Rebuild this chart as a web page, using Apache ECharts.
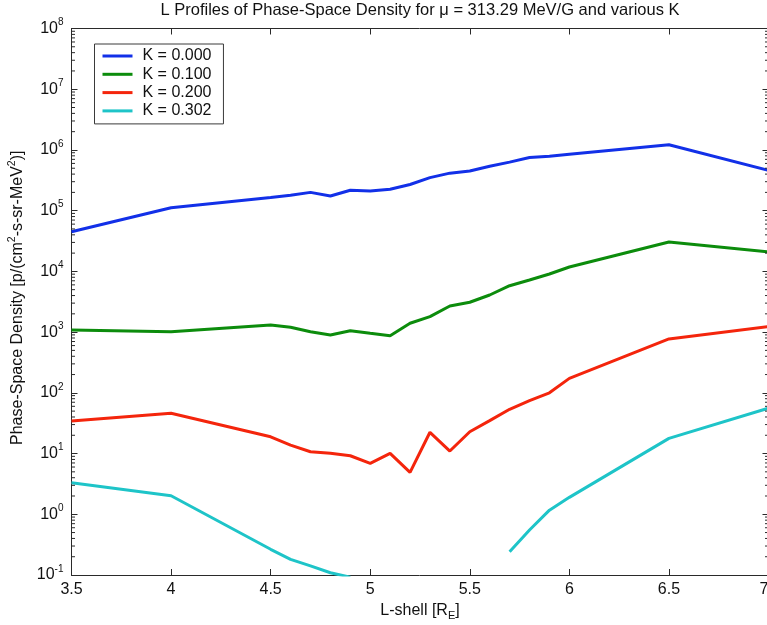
<!DOCTYPE html>
<html>
<head>
<meta charset="utf-8">
<title>L Profiles of Phase-Space Density</title>
<script src="https://cdn.jsdelivr.net/npm/echarts@6/dist/echarts.min.js"></script>
<style>
  html, body { margin: 0; padding: 0; background: #ffffff; }
  #chart { width: 767px; height: 625px; }
</style>
</head>
<body>
<div id="chart"></div>
<script>
// L-shell positions [R_E]
const lShell = [3.5, 4.0, 4.5, 4.6, 4.7, 4.8, 4.9, 5.0, 5.1, 5.2, 5.3, 5.4, 5.5, 5.6, 5.7, 5.8, 5.9, 6.0, 6.5, 7.0];

// Phase-space density for each K (null = no data)
const psdK000 = [4.5e4, 1.12e5, 1.65e5, 1.8e5, 2.0e5, 1.74e5, 2.17e5, 2.1e5, 2.25e5, 2.7e5, 3.5e5, 4.15e5, 4.5e5, 5.4e5, 6.3e5, 7.5e5, 7.9e5, 8.5e5, 1.22e6, 4.6e5];
const psdK100 = [1085, 1017, 1310, 1200, 1017, 896, 1054, 955, 873, 1397, 1795, 2690, 3100, 4085, 5810, 7210, 9060, 11800, 30500, 20900];
const psdK200 = [34.4, 46, 18.9, 13.8, 10.7, 10.1, 9.2, 6.9, 10.1, 4.9, 22.4, 11.0, 22.9, 34.8, 53.6, 74.2, 100, 173, 771, 1230];
const psdK302 = [3.3, 2.02, 0.265, 0.181, 0.141, 0.109, 0.092, null, null, null, null, null, null, null, 0.241, 0.55, 1.17, 1.9, 17.8, 56];

const seriesNames = ['K = 0.000', 'K = 0.100', 'K = 0.200', 'K = 0.302'];
const seriesColors = ['#1230e8', '#0c8c0c', '#f4250c', '#1ec4c8'];

// Axis ticks
const xTicks = [3.5, 4, 4.5, 5, 5.5, 6, 6.5, 7];
const yTickExps = [-1, 0, 1, 2, 3, 4, 5, 6, 7, 8];

const FONT = "'Liberation Sans', Arial, Helvetica, sans-serif";
const AXIS_COLOR = '#2a2a2a';

// log-decade minor tick values (2..9 x 10^k)
const minorTicks = [];
for (let e = yTickExps[0]; e < yTickExps[yTickExps.length - 1]; e++) {
  for (let m = 2; m <= 9; m++) minorTicks.push([m * Math.pow(10, e)]);
}

function pairs(ys) {
  return lShell.map((x, i) => [x, ys[i]]);
}

const allSeries = [psdK000, psdK100, psdK200, psdK302].map((ys, i) => ({
  name: seriesNames[i],
  type: 'line',
  data: pairs(ys),
  showSymbol: false,
  symbol: 'none',
  connectNulls: false,
  clip: true,
  lineStyle: { color: seriesColors[i], width: 3 },
  itemStyle: { color: seriesColors[i] },
  emphasis: { disabled: true },
  animation: false,
  z: 3
}));

// minor ticks along the left and right frame edges
allSeries.push({
  name: 'minorTicks',
  type: 'custom',
  data: minorTicks,
  silent: true,
  animation: false,
  clip: false,
  z: 4,
  encode: { y: 0 },
  renderItem: function (params, api) {
    const v = api.value(0);
    const pL = api.coord([xTicks[0], v]);
    const pR = api.coord([xTicks[xTicks.length - 1], v]);
    return {
      type: 'group',
      children: [
        { type: 'line', shape: { x1: pL[0], y1: pL[1], x2: pL[0] + 3.5, y2: pL[1] },
          style: { stroke: AXIS_COLOR, lineWidth: 1 } },
        { type: 'line', shape: { x1: pR[0], y1: pR[1], x2: pR[0] - 3.5, y2: pR[1] },
          style: { stroke: AXIS_COLOR, lineWidth: 1 } }
      ]
    };
  }
});

const yLabelRich = {
  b: { fontFamily: FONT, fontSize: 16, color: '#111', lineHeight: 22 },
  s: { fontFamily: FONT, fontSize: 10, color: '#111', verticalAlign: 'top', lineHeight: 12 }
};

const chart = echarts.init(document.getElementById('chart'), null, { renderer: 'canvas' });

chart.setOption({
  backgroundColor: '#ffffff',
  animation: false,
  title: {
    text: 'L Profiles of Phase-Space Density for \u03bc = 313.29 MeV/G and various K',
    left: 420,
    textAlign: 'center',
    top: 2,
    padding: 0,
    textStyle: { fontFamily: FONT, fontSize: 16.5, fontWeight: 'normal', color: '#111' }
  },
  legend: {
    data: seriesNames,
    orient: 'vertical',
    left: 94.5,
    top: 44,
    padding: [4, 12, 5, 8],
    itemGap: 2.3,
    itemWidth: 30,
    itemHeight: 3,
    icon: 'rect',
    backgroundColor: '#ffffff',
    borderColor: '#3a3a3a',
    borderWidth: 1,
    borderRadius: 0,
    selectedMode: false,
    textStyle: { fontFamily: FONT, fontSize: 16, color: '#111', lineHeight: 16, padding: [0, 0, 0, 5] }
  },
  grid: { left: 71.5, top: 28.5, width: 697, height: 546.5, containLabel: false, outerBoundsMode: 'none' },
  xAxis: [
    {
      type: 'value',
      min: xTicks[0],
      max: xTicks[xTicks.length - 1],
      interval: 0.5,
      position: 'bottom',
      name: '{a|L-shell [R}{sub|E}{a|]}',
      nameLocation: 'middle',
      nameGap: 19,
      nameTextStyle: {
        rich: {
          a: { fontFamily: FONT, fontSize: 16, color: '#111', lineHeight: 22 },
          sub: { fontFamily: FONT, fontSize: 11, color: '#111', verticalAlign: 'bottom', lineHeight: 12 }
        }
      },
      axisLine: { show: true, onZero: false, lineStyle: { color: AXIS_COLOR, width: 1 } },
      axisTick: { show: true, inside: true, length: 6, lineStyle: { color: AXIS_COLOR } },
      axisLabel: {
        margin: 7,
        fontFamily: FONT, fontSize: 16, color: '#111',
        showMinLabel: true, showMaxLabel: true,
        alignMaxLabel: 'right',
        formatter: v => String(+v.toFixed(1))
      },
      splitLine: { show: false }
    },
    {
      type: 'value',
      min: xTicks[0],
      max: xTicks[xTicks.length - 1],
      interval: 0.5,
      position: 'top',
      axisLine: { show: true, onZero: false, lineStyle: { color: AXIS_COLOR, width: 1 } },
      axisTick: { show: true, inside: true, length: 6, lineStyle: { color: AXIS_COLOR } },
      axisLabel: { show: false },
      splitLine: { show: false }
    }
  ],
  yAxis: [
    {
      type: 'log',
      logBase: 10,
      min: Math.pow(10, yTickExps[0]),
      max: Math.pow(10, yTickExps[yTickExps.length - 1]),
      interval: 1,
      position: 'left',
      name: '{a|Phase-Space Density [p/(cm}{s|2}{a|-s-sr-MeV}{s|2}{a|)]}',
      nameLocation: 'middle',
      nameGap: 37,
      nameTextStyle: {
        padding: [0, 0, 0, 8],
        rich: {
          a: { fontFamily: FONT, fontSize: 16, color: '#111', lineHeight: 22 },
          s: { fontFamily: FONT, fontSize: 10.5, color: '#111', verticalAlign: 'top', lineHeight: 12 }
        }
      },
      axisLine: { show: true, onZero: false, lineStyle: { color: AXIS_COLOR, width: 1 } },
      axisTick: { show: true, inside: true, length: 6, lineStyle: { color: AXIS_COLOR } },
      axisLabel: {
        margin: 8,
        showMinLabel: true, showMaxLabel: true,
        formatter: function (v) {
          const e = Math.round(Math.log10(v));
          return '{b|10}{s|' + e + '}';
        },
        rich: yLabelRich
      },
      splitLine: { show: false },
      minorTick: { show: false }
    },
    {
      type: 'log',
      logBase: 10,
      min: Math.pow(10, yTickExps[0]),
      max: Math.pow(10, yTickExps[yTickExps.length - 1]),
      interval: 1,
      position: 'right',
      axisLine: { show: true, onZero: false, lineStyle: { color: AXIS_COLOR, width: 1 } },
      axisTick: { show: true, inside: true, length: 6, lineStyle: { color: AXIS_COLOR } },
      axisLabel: { show: false },
      splitLine: { show: false }
    }
  ],
  series: allSeries
});
</script>
</body>
</html>
